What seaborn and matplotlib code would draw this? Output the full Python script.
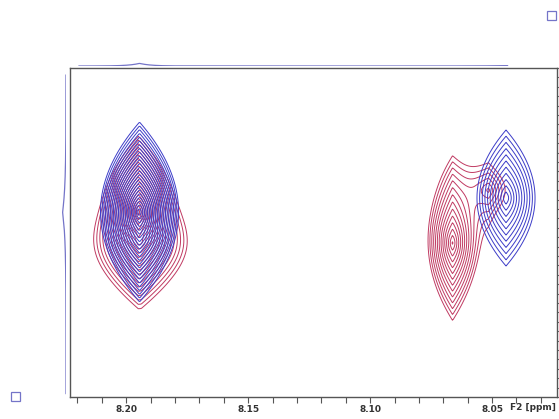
import numpy as np
import pandas as pd
import matplotlib
matplotlib.use("Agg")
import matplotlib.pyplot as plt
from matplotlib.patches import Rectangle
import seaborn as sns

# ---- data: peak parameters (F2 ppm, F1 ppm, widths, amplitudes) ----
blue_f2 = [8.1945, 8.0443]
blue_f1 = [8.0532, 8.0383]
blue_sx = [0.0045, 0.0073]
blue_sy = [0.0269, 0.0444]
blue_amp = [35.0, 5.1]

red_f2 = [8.1950, 8.1938, 8.0662, 8.0515]
red_f1 = [8.0532, 8.0860, 8.0862, 8.0300]
red_sx = [0.0040, 0.0110, 0.0050, 0.0090]
red_sy = [0.0250, 0.0360, 0.0420, 0.0350]
red_amp = [20.0, 5.0, 7.0, 2.0]

f2_ticks = [8.20, 8.15, 8.10, 8.05]
f2_labels = ["8.20", "8.15", "8.10", "8.05"]
contour_base = 1.0
contour_factor = 1.16
n_levels = 40

F2_LIM = (8.223, 8.0234)
F1_LIM = (8.25, 7.90)

f2 = np.linspace(8.24, 8.00, 700)
f1 = np.linspace(7.88, 8.27, 700)
X, Y = np.meshgrid(f2, f1)


def field(cx, cy, sx, sy, amp):
    Z = np.zeros_like(X)
    for x0, y0, wx, wy, a in zip(cx, cy, sx, sy, amp):
        ax_ = np.abs(X - x0) / wx
        by = np.abs(Y - y0) / wy
        r = (ax_ + np.sqrt(ax_ ** 2 + 4 * by ** 2)) / 2
        Z += a * np.exp(-r)
    return Z


Zb = field(blue_f2, blue_f1, blue_sx, blue_sy, blue_amp)
Zr = field(red_f2, red_f1, red_sx, red_sy, red_amp)
levels = contour_base * contour_factor ** np.arange(n_levels)

sns.set_theme(style="white")
plt.rcParams["font.family"] = ["DejaVu Sans"]

W, H = 559, 419
fig = plt.figure(figsize=(W / 100, H / 100), dpi=100)
ax = fig.add_axes([70 / W, 1 - 397 / H, (557 - 70) / W, (397 - 68) / H])

ax.contour(X, Y, Zr, levels=levels, colors="#c03a62", linewidths=0.7)
ax.contour(X, Y, Zb, levels=levels, colors="#3c3cc8", linewidths=0.7)

ax.set_xticks(f2_ticks)
ax.set_xticklabels(f2_labels)
ax.set_xticks(np.arange(8.03, 8.2201, 0.01), minor=True)
ax.yaxis.tick_right()
ax.set_yticks(np.arange(7.90, 8.2501, 0.01))
ax.set_yticklabels([])
ax.set_xlim(*F2_LIM)
ax.set_ylim(*F1_LIM)
ax.tick_params(axis="x", which="both", direction="out", length=4, width=0.8,
               color="#555555", labelsize=6.5, labelcolor="#333333", pad=2,
               bottom=True)
for lab in ax.get_xticklabels():
    lab.set_fontweight("bold")
ax.tick_params(axis="y", which="both", direction="out", length=3, width=0.8,
               color="#666666", right=True, left=False)
for s in ax.spines.values():
    s.set_color("#555555")
    s.set_linewidth(1.0)
fig.text(533 / W, 1 - 407 / H, "F2 [ppm]", fontsize=6.5, fontweight="bold",
         color="#333333", ha="center", va="center")

# projections
proj_top = pd.DataFrame({"f2": f2, "v": Zb.max(axis=0)})
proj_top = proj_top[(proj_top.f2 <= 8.2197) & (proj_top.f2 >= 8.0434)]
axt = fig.add_axes([70 / W, 1 - 66 / H, (557 - 70) / W, 6 / H])
sns.lineplot(data=proj_top, x="f2", y="v", ax=axt, color="#7474c8", linewidth=0.9)
axt.set_xlim(*F2_LIM)
axt.set_ylim(0, 80)
axt.axis("off")

proj_left = pd.DataFrame({"f1": f1, "v": Zb.max(axis=1)})
proj_left = proj_left[(proj_left.f1 >= 7.907) & (proj_left.f1 <= 8.247)]
axl = fig.add_axes([58 / W, 1 - 397 / H, 8 / W, (397 - 68) / H])
sns.lineplot(data=proj_left, x="v", y="f1", ax=axl, color="#7474c8",
             linewidth=0.9, orient="y", sort=False)
axl.set_ylim(*F1_LIM)
axl.set_xlim(80, 0)
axl.axis("off")

for (px, py) in [(547, 11), (11, 392)]:
    fig.add_artist(Rectangle((px / W, 1 - (py + 9) / H), 9 / W, 9 / H,
                             transform=fig.transFigure, fill=False,
                             edgecolor="#7474c8", linewidth=0.9))

fig.savefig("out.png", dpi=100)
